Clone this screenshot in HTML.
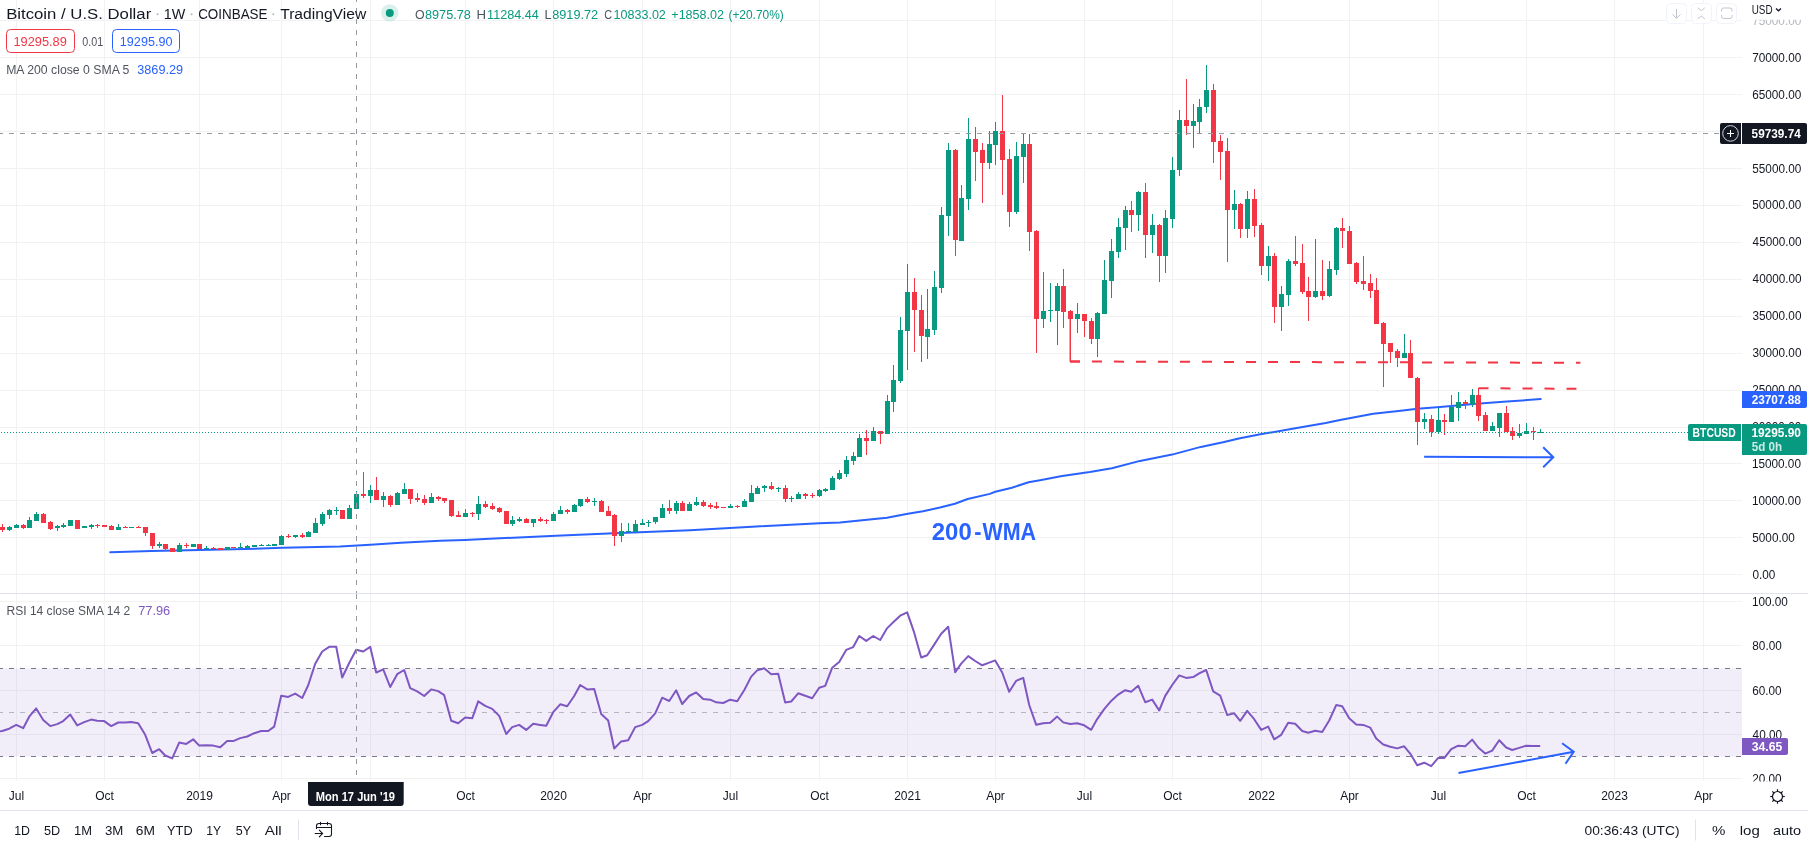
<!DOCTYPE html><html><head><meta charset="utf-8"><title>BTCUSD chart</title><style>
html,body{margin:0;padding:0;background:#fff;width:1808px;height:848px;overflow:hidden}
svg{display:block;will-change:transform}
text{font-family:'Liberation Sans', Arial, sans-serif}
</style></head><body>
<svg width="1808" height="848" viewBox="0 0 1808 848">
<rect width="1808" height="848" fill="#fff"/>
<path d="M0 574.5H1742M0 537.5H1742M0 500.5H1742M0 463.5H1742M0 427.5H1742M0 390.5H1742M0 353.5H1742M0 316.5H1742M0 279.5H1742M0 242.5H1742M0 205.5H1742M0 168.5H1742M0 131.5H1742M0 94.5H1742M0 57.5H1742M0 20.5H1742M0 601.5H1742M0 645.5H1742M0 690.5H1742M0 734.5H1742M0 778.5H1742M16.5 0V593M16.5 594V781M104.5 0V593M104.5 594V781M199.5 0V593M199.5 594V781M281.5 0V593M281.5 594V781M370.5 0V593M370.5 594V781M465.5 0V593M465.5 594V781M553.5 0V593M553.5 594V781M642.5 0V593M642.5 594V781M730.5 0V593M730.5 594V781M819.5 0V593M819.5 594V781M907.5 0V593M907.5 594V781M995.5 0V593M995.5 594V781M1084.5 0V593M1084.5 594V781M1172.5 0V593M1172.5 594V781M1261.5 0V593M1261.5 594V781M1349.5 0V593M1349.5 594V781M1438.5 0V593M1438.5 594V781M1526.5 0V593M1526.5 594V781M1614.5 0V593M1614.5 594V781M1703.5 0V593M1703.5 594V781" stroke="#f2f2f3" stroke-width="1" fill="none"/>
<rect x="0" y="668.5" width="1742" height="88.0" fill="#7e57c2" fill-opacity="0.1"/>
<path d="M0 668.5H1742M0 756.5H1742" stroke="#787b86" stroke-width="1" stroke-dasharray="5 6" stroke-dashoffset="2"/>
<path d="M0 712.5H1742" stroke="#787b86" stroke-opacity="0.5" stroke-width="1" stroke-dasharray="5 6" stroke-dashoffset="2"/>
<path d="M0 593.5H1808M0 810.5H1808" stroke="#e0e3eb" stroke-width="1"/>
<polyline points="110.2,552.2 151.5,551.0 199.5,550.0 245.0,549.0 282.5,547.8 340.0,546.6 370.4,544.8 400.8,542.8 440.0,540.8 464.7,539.9 555.9,535.7 614.0,533.3 690.0,530.3 756.4,526.5 819.4,523.2 840.0,522.4 862.1,520.2 887.0,517.7 906.4,514.1 923.0,511.3 940.0,507.5 954.9,503.7 967.7,499.0 989.8,493.9 995.3,491.8 1011.9,487.7 1028.5,482.2 1040.0,480.2 1062.1,476.0 1089.8,472.1 1111.9,468.3 1140.0,460.9 1172.1,454.6 1200.8,446.9 1223.0,442.2 1240.0,438.2 1261.6,434.1 1295.3,428.3 1325.7,423.0 1340.0,420.1 1373.2,413.8 1400.8,410.8 1417.4,408.8 1440.0,407.1 1476.5,403.7 1506.9,401.6 1540.7,399.0" fill="none" stroke="#2962ff" stroke-width="2" stroke-linejoin="round" stroke-linecap="round"/>
<path d="M9.5 526V531M16.5 524V528M29.5 517V528M36.5 512V521M57.5 525V531M63.5 523V528M70.5 520V526M84.5 526V528M91.5 524V529M118.5 524V530M131.5 527V528M159.5 542V548M179.5 543V552M193.5 544V547M206.5 546V549M227.5 547V550M240.5 543V548M247.5 545V548M254.5 545V547M261.5 544V546M268.5 544V546M274.5 544V546M281.5 535V545M295.5 535V538M308.5 531V537M315.5 518V533M322.5 512V526M329.5 509V519M336.5 507V515M349.5 505V519M356.5 491V509M370.5 485V503M383.5 492V507M397.5 492V505M404.5 483V494M431.5 493V503M465.5 509V517M478.5 496V520M512.5 516V526M519.5 517V522M533.5 519V527M553.5 512V521M560.5 506V514M574.5 504V512M580.5 499V507M594.5 498V506M621.5 523V542M628.5 523V532M635.5 520V532M642.5 519V525M648.5 520V527M655.5 517V524M662.5 504V518M676.5 501V514M689.5 502V511M696.5 497V506M730.5 504V508M744.5 499V507M751.5 485V502M757.5 486V494M764.5 485V492M778.5 487V492M791.5 496V502M798.5 492V499M819.5 489V497M825.5 488V492M832.5 476V490M839.5 470V480M846.5 456V477M853.5 452V465M859.5 434V457M873.5 427V441M887.5 395V434M893.5 365V412M900.5 317V383M907.5 264V370M927.5 289V359M934.5 271V335M941.5 207V293M948.5 143V236M961.5 185V241M968.5 118V210M989.5 131V169M995.5 122V165M1016.5 142V214M1023.5 134V183M1043.5 272V328M1050.5 283V322M1057.5 283V345M1077.5 303V333M1097.5 312V357M1104.5 260V314M1111.5 239V298M1118.5 218V258M1125.5 206V250M1138.5 191V231M1152.5 214V253M1165.5 210V273M1172.5 157V228M1179.5 110V176M1193.5 104V148M1199.5 99V134M1206.5 65V113M1234.5 190V229M1247.5 191V238M1268.5 246V281M1281.5 286V331M1288.5 259V306M1315.5 239V298M1329.5 261V297M1336.5 227V275M1404.5 334V358M1424.5 413V429M1438.5 408V434M1451.5 395V422M1458.5 392V421M1472.5 389V407M1492.5 422V431M1499.5 413V437M1519.5 424V438M1526.5 423V434M1540.5 429V433" stroke="#089981" stroke-width="1" fill="none"/>
<path d="M7 527h5v3h-5zM14 525h5v3h-5zM27 520h5v8h-5zM34 514h5v7h-5zM55 526h5v2h-5zM61 525h5v2h-5zM68 520h5v6h-5zM82 526h5v2h-5zM89 525h5v2h-5zM116 527h5v3h-5zM129 527h5v1h-5zM157 544h5v2h-5zM177 545h5v7h-5zM191 544h5v3h-5zM204 548h5v1h-5zM225 547h5v3h-5zM238 547h5v1h-5zM245 546h5v2h-5zM252 545h5v2h-5zM259 545h5v1h-5zM266 545h5v1h-5zM272 544h5v2h-5zM279 536h5v9h-5zM293 535h5v2h-5zM306 532h5v5h-5zM313 523h5v10h-5zM320 514h5v10h-5zM327 510h5v5h-5zM334 510h5v1h-5zM347 508h5v11h-5zM354 494h5v15h-5zM368 490h5v6h-5zM381 496h5v4h-5zM395 493h5v12h-5zM402 489h5v5h-5zM429 497h5v6h-5zM463 513h5v4h-5zM476 504h5v10h-5zM510 520h5v4h-5zM517 519h5v2h-5zM531 519h5v4h-5zM551 514h5v7h-5zM558 510h5v4h-5zM572 505h5v7h-5zM578 499h5v7h-5zM592 501h5v1h-5zM619 531h5v5h-5zM626 531h5v1h-5zM633 524h5v8h-5zM640 523h5v2h-5zM646 522h5v1h-5zM653 517h5v5h-5zM660 508h5v10h-5zM674 503h5v8h-5zM687 504h5v7h-5zM694 502h5v3h-5zM728 506h5v2h-5zM742 501h5v6h-5zM749 493h5v9h-5zM755 488h5v6h-5zM762 486h5v2h-5zM776 488h5v1h-5zM789 498h5v1h-5zM796 494h5v5h-5zM817 490h5v6h-5zM823 489h5v2h-5zM830 478h5v12h-5zM837 473h5v6h-5zM844 460h5v14h-5zM851 456h5v5h-5zM857 438h5v19h-5zM871 431h5v10h-5zM885 401h5v33h-5zM891 380h5v22h-5zM898 330h5v51h-5zM905 292h5v39h-5zM925 329h5v8h-5zM932 287h5v43h-5zM939 215h5v73h-5zM946 150h5v66h-5zM959 198h5v43h-5zM966 139h5v60h-5zM987 144h5v19h-5zM993 131h5v14h-5zM1014 156h5v56h-5zM1021 144h5v13h-5zM1041 311h5v8h-5zM1048 310h5v1h-5zM1055 286h5v25h-5zM1075 314h5v5h-5zM1095 313h5v26h-5zM1102 280h5v34h-5zM1109 251h5v30h-5zM1116 227h5v25h-5zM1123 210h5v18h-5zM1136 192h5v23h-5zM1150 225h5v10h-5zM1163 218h5v38h-5zM1170 170h5v49h-5zM1177 120h5v50h-5zM1191 121h5v5h-5zM1197 107h5v15h-5zM1204 90h5v17h-5zM1232 204h5v6h-5zM1245 199h5v30h-5zM1266 256h5v10h-5zM1279 294h5v13h-5zM1286 261h5v34h-5zM1313 291h5v6h-5zM1327 269h5v27h-5zM1334 228h5v42h-5zM1402 353h5v5h-5zM1422 419h5v3h-5zM1436 420h5v12h-5zM1449 407h5v15h-5zM1456 402h5v6h-5zM1470 395h5v9h-5zM1490 426h5v5h-5zM1497 413h5v15h-5zM1517 433h5v3h-5zM1524 431h5v3h-5zM1538 432h5v1h-5z" fill="#089981"/>
<path d="M2.5 524V532M23.5 524V529M43.5 513V523M50.5 521V530M77.5 520V529M97.5 524V528M104.5 525V527M111.5 525V530M125.5 526V528M138.5 526V528M145.5 527V536M152.5 533V549M165.5 544V551M172.5 548V552M186.5 543V548M199.5 544V549M213.5 547V549M220.5 548V550M233.5 547V548M288.5 534V538M302.5 533V538M342.5 510V519M363.5 472V498M376.5 477V500M390.5 495V507M410.5 489V504M417.5 493V502M424.5 495V505M438.5 496V501M444.5 498V503M451.5 500V517M458.5 511V517M472.5 512V517M485.5 501V508M492.5 503V510M499.5 507V513M506.5 511V524M526.5 518V523M540.5 517V522M546.5 519V524M567.5 509V514M587.5 497V503M601.5 500V512M608.5 506V516M614.5 514V546M669.5 500V514M682.5 501V511M703.5 500V507M710.5 503V509M716.5 502V509M723.5 507V508M737.5 505V508M771.5 482V490M785.5 485V502M805.5 493V499M812.5 493V498M866.5 430V455M880.5 431V444M914.5 278V352M921.5 295V362M955.5 149V256M975.5 127V181M982.5 143V203M1002.5 95V195M1009.5 149V227M1029.5 134V251M1036.5 230V353M1063.5 269V328M1070.5 310V361M1084.5 314V337M1091.5 318V344M1131.5 201V232M1145.5 183V258M1159.5 224V282M1186.5 79V135M1213.5 84V163M1220.5 135V180M1227.5 138V262M1240.5 203V238M1254.5 189V237M1261.5 223V275M1274.5 253V323M1295.5 236V266M1302.5 244V294M1308.5 277V321M1322.5 260V300M1342.5 218V248M1349.5 226V264M1356.5 262V284M1363.5 256V290M1370.5 274V298M1376.5 278V324M1383.5 322V387M1390.5 343V363M1397.5 349V367M1410.5 340V378M1417.5 377V445M1431.5 415V437M1444.5 414V435M1465.5 400V409M1478.5 388V421M1485.5 412V431M1506.5 406V432M1512.5 427V440M1533.5 427V440" stroke="#f23645" stroke-width="1" fill="none"/>
<path d="M0 527h5v3h-5zM21 525h5v3h-5zM41 514h5v9h-5zM48 522h5v7h-5zM75 520h5v9h-5zM95 525h5v1h-5zM102 525h5v2h-5zM109 526h5v4h-5zM123 527h5v1h-5zM136 527h5v1h-5zM143 527h5v6h-5zM150 533h5v13h-5zM163 544h5v5h-5zM170 548h5v4h-5zM184 545h5v1h-5zM197 544h5v5h-5zM211 548h5v1h-5zM218 548h5v2h-5zM231 547h5v1h-5zM286 536h5v1h-5zM300 535h5v2h-5zM340 510h5v9h-5zM361 494h5v2h-5zM374 490h5v10h-5zM388 496h5v9h-5zM408 489h5v10h-5zM415 498h5v2h-5zM422 499h5v4h-5zM436 497h5v2h-5zM442 498h5v3h-5zM449 500h5v16h-5zM456 515h5v2h-5zM470 513h5v1h-5zM483 504h5v3h-5zM490 506h5v3h-5zM497 508h5v4h-5zM504 511h5v13h-5zM524 519h5v4h-5zM538 519h5v2h-5zM544 520h5v1h-5zM565 510h5v2h-5zM585 499h5v3h-5zM599 501h5v11h-5zM606 511h5v5h-5zM612 515h5v21h-5zM667 508h5v3h-5zM680 503h5v8h-5zM701 502h5v4h-5zM708 505h5v2h-5zM714 506h5v2h-5zM721 507h5v1h-5zM735 506h5v1h-5zM769 486h5v3h-5zM783 488h5v11h-5zM803 494h5v2h-5zM810 495h5v1h-5zM864 438h5v3h-5zM878 431h5v3h-5zM912 292h5v18h-5zM919 310h5v26h-5zM953 150h5v90h-5zM973 139h5v13h-5zM980 150h5v13h-5zM1000 131h5v29h-5zM1007 159h5v53h-5zM1027 144h5v88h-5zM1034 231h5v88h-5zM1061 286h5v26h-5zM1068 311h5v8h-5zM1082 314h5v7h-5zM1089 321h5v18h-5zM1129 210h5v5h-5zM1143 192h5v43h-5zM1157 225h5v31h-5zM1184 120h5v6h-5zM1211 90h5v52h-5zM1218 141h5v11h-5zM1225 151h5v59h-5zM1238 204h5v25h-5zM1252 199h5v27h-5zM1259 225h5v41h-5zM1272 256h5v51h-5zM1293 261h5v3h-5zM1300 263h5v29h-5zM1306 291h5v6h-5zM1320 291h5v5h-5zM1340 228h5v3h-5zM1347 231h5v33h-5zM1354 263h5v19h-5zM1361 281h5v3h-5zM1368 283h5v8h-5zM1374 290h5v34h-5zM1381 323h5v21h-5zM1388 343h5v9h-5zM1395 351h5v7h-5zM1408 353h5v25h-5zM1415 378h5v44h-5zM1429 419h5v13h-5zM1442 420h5v2h-5zM1463 402h5v2h-5zM1476 395h5v21h-5zM1483 415h5v16h-5zM1504 413h5v19h-5zM1510 431h5v5h-5zM1531 431h5v1h-5z" fill="#f23645"/>
<polyline points="-4.80,731.6 2.20,731.0 9.20,728.7 16.20,724.9 23.20,728.2 29.20,716.7 36.20,708.4 43.20,720.0 50.20,726.1 57.20,724.1 63.20,721.1 70.20,714.5 77.20,725.4 84.20,722.1 91.20,719.6 97.20,720.8 104.20,721.1 111.20,726.1 118.20,722.5 125.20,722.5 131.20,722.1 138.20,723.3 145.20,734.8 152.20,753.0 159.20,749.2 165.20,755.5 172.20,758.4 179.20,742.6 186.20,743.9 193.20,739.3 199.20,745.6 206.20,745.2 213.20,745.6 220.20,747.2 227.20,740.9 233.20,741.1 240.20,738.1 247.20,736.5 254.20,733.2 261.20,731.0 268.20,731.0 274.20,726.6 281.20,695.7 288.20,696.9 295.20,693.6 302.20,698.0 308.20,685.3 315.20,663.8 322.20,651.5 329.20,646.8 336.20,646.8 342.20,677.5 349.20,663.0 356.20,649.8 363.20,651.5 370.20,646.8 376.20,672.6 383.20,669.3 390.20,687.0 397.20,674.2 404.20,670.0 410.20,688.1 417.20,691.4 424.20,696.0 431.20,689.4 438.20,691.1 444.20,695.2 451.20,720.8 458.20,723.3 465.20,717.5 472.20,718.3 478.20,701.3 485.20,705.9 492.20,708.9 499.20,715.9 506.20,734.0 512.20,727.1 519.20,724.9 526.20,729.9 533.20,723.8 540.20,724.9 546.20,725.8 553.20,712.2 560.20,704.3 567.20,706.3 574.20,696.0 580.20,685.0 587.20,689.4 594.20,689.1 601.20,713.9 608.20,720.5 614.20,748.5 621.20,741.4 628.20,740.3 635.20,727.1 642.20,724.9 648.20,721.1 655.20,713.4 662.20,697.7 669.20,701.0 676.20,690.3 682.20,704.0 689.20,696.0 696.20,692.4 703.20,699.0 710.20,699.7 716.20,702.3 723.20,703.0 730.20,699.7 737.20,701.3 744.20,690.3 751.20,676.6 757.20,670.4 764.20,668.3 771.20,674.2 778.20,673.8 785.20,702.5 791.20,701.5 798.20,693.3 805.20,695.8 812.20,698.2 819.20,687.8 825.20,685.9 832.20,667.7 839.20,661.9 846.20,649.9 853.20,647.1 859.20,636.0 866.20,640.9 873.20,636.0 880.20,640.0 887.20,628.1 893.20,622.3 900.20,615.7 907.20,612.4 914.20,632.7 921.20,657.5 927.20,655.3 934.20,644.6 941.20,633.8 948.20,626.7 955.20,672.3 961.20,663.6 968.20,656.1 975.20,661.0 982.20,665.3 989.20,662.6 995.20,660.4 1002.20,672.5 1009.20,691.8 1016.20,680.8 1023.20,677.8 1029.20,705.0 1036.20,724.8 1043.20,723.2 1050.20,722.7 1057.20,716.6 1063.20,722.4 1070.20,724.0 1077.20,723.2 1084.20,725.3 1091.20,729.8 1097.20,719.1 1104.20,709.2 1111.20,700.9 1118.20,694.6 1125.20,690.2 1131.20,691.8 1138.20,685.7 1145.20,702.2 1152.20,699.6 1159.20,710.5 1165.20,695.9 1172.20,685.0 1179.20,675.4 1186.20,677.9 1193.20,677.1 1199.20,673.3 1206.20,670.0 1213.20,691.4 1220.20,695.7 1227.20,715.0 1234.20,713.4 1240.20,720.8 1247.20,710.9 1254.20,719.2 1261.20,729.9 1268.20,726.6 1274.20,739.3 1281.20,734.8 1288.20,722.8 1295.20,723.8 1302.20,731.0 1308.20,732.7 1315.20,730.7 1322.20,732.0 1329.20,720.5 1336.20,705.1 1342.20,706.3 1349.20,718.3 1356.20,724.4 1363.20,724.9 1370.20,727.6 1376.20,738.4 1383.20,744.5 1390.20,746.7 1397.20,748.4 1404.20,746.3 1410.20,753.6 1417.20,765.2 1424.20,762.7 1431.20,766.2 1438.20,757.9 1444.20,758.1 1451.20,749.1 1458.20,745.7 1465.20,746.3 1472.20,739.6 1478.20,747.5 1485.20,753.6 1492.20,750.6 1499.20,740.2 1506.20,747.5 1512.20,750.0 1519.20,747.9 1526.20,745.7 1533.20,746.0 1540.20,746.0" fill="none" stroke="#7e57c2" stroke-width="2" stroke-linejoin="round"/>
<path d="M1070 361.5H1080" stroke="#f23645" stroke-width="2"/>
<path d="M1070 319V361.5" stroke="#f23645" stroke-width="1"/>
<path d="M1070 361.5L1580.4 362.8" stroke="#f23645" stroke-width="2" stroke-dasharray="10 12"/>
<path d="M1478.5 395V388.2" stroke="#f23645" stroke-width="1"/>
<path d="M1478.5 388.2L1576.4 388.8" stroke="#f23645" stroke-width="2" stroke-dasharray="10 12"/>
<path d="M1424.1 456.7L1553.3 457.3M1543.2 447.2L1553.3 457.3L1543.2 467.3" stroke="#2962ff" stroke-width="2" fill="none"/>
<path d="M1458.5 773.1L1573.7 751.8M1562.1 743.3L1573.7 751.8L1565.5 763.7" stroke="#2962ff" stroke-width="2" fill="none"/>
<text x="931.77" y="539.6" font-size="23" fill="#2962ff" font-weight="bold" textLength="39.95" lengthAdjust="spacingAndGlyphs" >200</text>
<text x="974.35" y="539.6" font-size="23" fill="#2962ff" font-weight="bold" textLength="7.27" lengthAdjust="spacingAndGlyphs" >-</text>
<text x="982.40" y="539.6" font-size="23" fill="#2962ff" font-weight="bold" textLength="53.64" lengthAdjust="spacingAndGlyphs" >WMA</text>
<path d="M0 432.5H1688" stroke="#089981" stroke-width="1" stroke-dasharray="1 2" stroke-dashoffset="2"/>
<path d="M0 133.5H1719" stroke="#9598a1" stroke-width="1" stroke-dasharray="5 6" stroke-dashoffset="2"/>
<path d="M356.5 0V593" stroke="#9598a1" stroke-width="1" stroke-dasharray="5 6" stroke-dashoffset="3"/>
<path d="M356.5 594V781" stroke="#9598a1" stroke-width="1" stroke-dasharray="5 6"/>
<text x="6.19" y="19.0" font-size="14" fill="#131722" textLength="145.02" lengthAdjust="spacingAndGlyphs" >Bitcoin / U.S. Dollar</text>
<text x="163.78" y="19.0" font-size="14" fill="#131722" textLength="21.52" lengthAdjust="spacingAndGlyphs" >1W</text>
<text x="198.13" y="19.0" font-size="14" fill="#131722" textLength="69.40" lengthAdjust="spacingAndGlyphs" >COINBASE</text>
<text x="280.16" y="19.0" font-size="14" fill="#131722" textLength="86.07" lengthAdjust="spacingAndGlyphs" >TradingView</text>
<circle cx="157.6" cy="14.3" r="1" fill="#b2b5be"/>
<circle cx="191.6" cy="14.3" r="1" fill="#b2b5be"/>
<circle cx="273.3" cy="14.3" r="1" fill="#b2b5be"/>
<circle cx="389.8" cy="12.9" r="8.7" fill="#089981" fill-opacity="0.15"/>
<circle cx="389.8" cy="12.9" r="4" fill="#089981"/>
<text x="414.91" y="19.1" font-size="12.5" fill="#50535e" textLength="9.61" lengthAdjust="spacingAndGlyphs" >O</text>
<text x="424.99" y="19.1" font-size="12.5" fill="#089981" textLength="45.90" lengthAdjust="spacingAndGlyphs" >8975.78</text>
<text x="476.44" y="19.1" font-size="12.5" fill="#50535e" textLength="9.54" lengthAdjust="spacingAndGlyphs" >H</text>
<text x="487.09" y="19.1" font-size="12.5" fill="#089981" textLength="51.82" lengthAdjust="spacingAndGlyphs" >11284.44</text>
<text x="544.48" y="19.1" font-size="12.5" fill="#50535e" textLength="7.08" lengthAdjust="spacingAndGlyphs" >L</text>
<text x="552.19" y="19.1" font-size="12.5" fill="#089981" textLength="46.00" lengthAdjust="spacingAndGlyphs" >8919.72</text>
<text x="604.18" y="19.1" font-size="12.5" fill="#50535e" textLength="7.88" lengthAdjust="spacingAndGlyphs" >C</text>
<text x="613.50" y="19.1" font-size="12.5" fill="#089981" textLength="52.34" lengthAdjust="spacingAndGlyphs" >10833.02</text>
<text x="671.30" y="19.1" font-size="12.5" fill="#089981" textLength="52.69" lengthAdjust="spacingAndGlyphs" >+1858.02</text>
<text x="728.43" y="19.1" font-size="12.5" fill="#089981" textLength="55.35" lengthAdjust="spacingAndGlyphs" >(+20.70%)</text>
<rect x="6.5" y="29.5" width="68" height="23" rx="4" fill="#fff" stroke="#f23645"/>
<text x="13.44" y="45.6" font-size="12" fill="#f23645" textLength="53.34" lengthAdjust="spacingAndGlyphs" >19295.89</text>
<text x="82.34" y="45.6" font-size="12" fill="#50535e" textLength="20.85" lengthAdjust="spacingAndGlyphs" >0.01</text>
<rect x="112.5" y="29.5" width="67" height="23" rx="4" fill="#fff" stroke="#2962ff"/>
<text x="119.85" y="45.6" font-size="12" fill="#2962ff" textLength="52.62" lengthAdjust="spacingAndGlyphs" >19295.90</text>
<text x="6.18" y="73.6" font-size="12" fill="#50535e" textLength="123.16" lengthAdjust="spacingAndGlyphs" >MA 200 close 0 SMA 5</text>
<text x="137.28" y="73.6" font-size="12" fill="#2962ff" textLength="45.83" lengthAdjust="spacingAndGlyphs" >3869.29</text>
<text x="6.50" y="614.8" font-size="12" fill="#50535e" textLength="123.70" lengthAdjust="spacingAndGlyphs" >RSI 14 close SMA 14 2</text>
<text x="138.16" y="614.8" font-size="12" fill="#7e57c2" textLength="32.10" lengthAdjust="spacingAndGlyphs" >77.96</text>
<text x="1752.41" y="579.0" font-size="12" fill="#131722" textLength="22.89" lengthAdjust="spacingAndGlyphs">0.00</text>
<text x="1752.31" y="542.0" font-size="12" fill="#131722" textLength="42.51" lengthAdjust="spacingAndGlyphs">5000.00</text>
<text x="1751.92" y="505.0" font-size="12" fill="#131722" textLength="49.05" lengthAdjust="spacingAndGlyphs">10000.00</text>
<text x="1751.92" y="468.0" font-size="12" fill="#131722" textLength="49.05" lengthAdjust="spacingAndGlyphs">15000.00</text>
<text x="1752.21" y="431.0" font-size="12" fill="#131722" textLength="49.05" lengthAdjust="spacingAndGlyphs">20000.00</text>
<text x="1752.21" y="394.0" font-size="12" fill="#131722" textLength="49.05" lengthAdjust="spacingAndGlyphs">25000.00</text>
<text x="1752.41" y="357.0" font-size="12" fill="#131722" textLength="49.05" lengthAdjust="spacingAndGlyphs">30000.00</text>
<text x="1752.41" y="320.0" font-size="12" fill="#131722" textLength="49.05" lengthAdjust="spacingAndGlyphs">35000.00</text>
<text x="1752.60" y="283.0" font-size="12" fill="#131722" textLength="49.05" lengthAdjust="spacingAndGlyphs">40000.00</text>
<text x="1752.60" y="246.0" font-size="12" fill="#131722" textLength="49.05" lengthAdjust="spacingAndGlyphs">45000.00</text>
<text x="1752.31" y="209.0" font-size="12" fill="#131722" textLength="49.05" lengthAdjust="spacingAndGlyphs">50000.00</text>
<text x="1752.31" y="173.0" font-size="12" fill="#131722" textLength="49.05" lengthAdjust="spacingAndGlyphs">55000.00</text>
<text x="1752.21" y="136.0" font-size="12" fill="#131722" textLength="49.05" lengthAdjust="spacingAndGlyphs">60000.00</text>
<text x="1752.21" y="99.0" font-size="12" fill="#131722" textLength="49.05" lengthAdjust="spacingAndGlyphs">65000.00</text>
<text x="1752.21" y="62.0" font-size="12" fill="#131722" textLength="49.05" lengthAdjust="spacingAndGlyphs">70000.00</text>
<clipPath id="c75"><rect x="1743" y="19.5" width="65" height="10"/></clipPath>
<g clip-path="url(#c75)">
<text x="1752.21" y="25.0" font-size="12" fill="#b2b5be" textLength="49.05" lengthAdjust="spacingAndGlyphs">75000.00</text>
</g>
<clipPath id="crsi"><rect x="1743" y="594" width="65" height="187.5"/></clipPath><g clip-path="url(#crsi)">
<text x="1751.92" y="605.8" font-size="12" fill="#131722" textLength="35.97" lengthAdjust="spacingAndGlyphs">100.00</text>
<text x="1752.31" y="649.8" font-size="12" fill="#131722" textLength="29.43" lengthAdjust="spacingAndGlyphs">80.00</text>
<text x="1752.21" y="694.8" font-size="12" fill="#131722" textLength="29.43" lengthAdjust="spacingAndGlyphs">60.00</text>
<text x="1752.60" y="738.8" font-size="12" fill="#131722" textLength="29.43" lengthAdjust="spacingAndGlyphs">40.00</text>
<text x="1752.21" y="782.8" font-size="12" fill="#131722" textLength="29.43" lengthAdjust="spacingAndGlyphs">20.00</text>
</g>
<path d="M1722 123h19v21h-19a2 2 0 0 1-2-2v-17a2 2 0 0 1 2-2z" fill="#131722"/>
<circle cx="1730.5" cy="133.4" r="7.8" fill="none" stroke="#d1d4dc" stroke-width="1"/>
<path d="M1727 133.5h7M1730.5 130v7" stroke="#fff" stroke-width="1"/>
<path d="M1742 123h63a2 2 0 0 1 2 2v17a2 2 0 0 1-2 2h-63z" fill="#131722"/>
<text x="1751.61" y="137.8" font-size="12" fill="#fff" font-weight="bold" textLength="49.14" lengthAdjust="spacingAndGlyphs" >59739.74</text>
<path d="M1742 391h63a2 2 0 0 1 2 2v13a2 2 0 0 1-2 2h-63z" fill="#2962ff"/>
<text x="1751.71" y="403.8" font-size="12" fill="#fff" font-weight="bold" textLength="49.13" lengthAdjust="spacingAndGlyphs" >23707.88</text>
<path d="M1690 424h51v17h-51a2 2 0 0 1-2-2v-13a2 2 0 0 1 2-2z" fill="#089981"/>
<text x="1692.61" y="436.8" font-size="12" fill="#fff" font-weight="bold" textLength="43.12" lengthAdjust="spacingAndGlyphs" >BTCUSD</text>
<path d="M1742 424h63a2 2 0 0 1 2 2v27a2 2 0 0 1-2 2h-63z" fill="#089981"/>
<text x="1751.41" y="436.8" font-size="12" fill="#fff" font-weight="bold" textLength="49.54" lengthAdjust="spacingAndGlyphs" >19295.90</text>
<text x="1751.71" y="450.9" font-size="12" fill="#fff" font-weight="bold" textLength="30.30" lengthAdjust="spacingAndGlyphs" fill-opacity="0.8">5d 0h</text>
<path d="M1742 738h44a2 2 0 0 1 2 2v13a2 2 0 0 1-2 2h-44z" fill="#7e57c2"/>
<text x="1751.69" y="750.9" font-size="12" fill="#fff" font-weight="bold" textLength="30.54" lengthAdjust="spacingAndGlyphs" >34.65</text>
<rect x="1743" y="0" width="65" height="19.5" fill="#fff"/>
<text x="1751.76" y="13.5" font-size="12" fill="#131722" textLength="20.78" lengthAdjust="spacingAndGlyphs" >USD</text>
<path d="M1776 8.5l2.5 2.3 2.5-2.3" stroke="#131722" stroke-width="1.3" fill="none"/>
<rect x="1666.5" y="3.5" width="20" height="20" rx="4" fill="#fff" fill-opacity="0.8" stroke="#f0f3fa"/>
<rect x="1691.5" y="3.5" width="20" height="20" rx="4" fill="#fff" fill-opacity="0.8" stroke="#f0f3fa"/>
<rect x="1716.5" y="3.5" width="20" height="20" rx="4" fill="#fff" fill-opacity="0.8" stroke="#f0f3fa"/>
<path d="M1676.5 9v9M1672.5 14.5l4 3.7 4-3.7" stroke="#c1c4cd" stroke-width="1" fill="none"/>
<path d="M1697.8 7.8l3.5 2.8 3.5-2.8M1697.8 18.8l3.5-2.8 3.5 2.8" stroke="#c1c4cd" stroke-width="1" fill="none"/>
<path d="M1721.5 11.5v-1.5a2 2 0 0 1 2-2h6.5a2 2 0 0 1 2 2v1.5M1721.5 15v1.5a2 2 0 0 0 2 2h6.5a2 2 0 0 0 2-2v-1.5" stroke="#c1c4cd" stroke-width="1" fill="none"/>
<text x="16.5" y="800" font-size="12" fill="#131722" text-anchor="middle">Jul</text>
<text x="104.5" y="800" font-size="12" fill="#131722" text-anchor="middle">Oct</text>
<text x="199.5" y="800" font-size="12" fill="#131722" text-anchor="middle">2019</text>
<text x="281.5" y="800" font-size="12" fill="#131722" text-anchor="middle">Apr</text>
<text x="465.5" y="800" font-size="12" fill="#131722" text-anchor="middle">Oct</text>
<text x="553.5" y="800" font-size="12" fill="#131722" text-anchor="middle">2020</text>
<text x="642.5" y="800" font-size="12" fill="#131722" text-anchor="middle">Apr</text>
<text x="730.5" y="800" font-size="12" fill="#131722" text-anchor="middle">Jul</text>
<text x="819.5" y="800" font-size="12" fill="#131722" text-anchor="middle">Oct</text>
<text x="907.5" y="800" font-size="12" fill="#131722" text-anchor="middle">2021</text>
<text x="995.5" y="800" font-size="12" fill="#131722" text-anchor="middle">Apr</text>
<text x="1084.5" y="800" font-size="12" fill="#131722" text-anchor="middle">Jul</text>
<text x="1172.5" y="800" font-size="12" fill="#131722" text-anchor="middle">Oct</text>
<text x="1261.5" y="800" font-size="12" fill="#131722" text-anchor="middle">2022</text>
<text x="1349.5" y="800" font-size="12" fill="#131722" text-anchor="middle">Apr</text>
<text x="1438.5" y="800" font-size="12" fill="#131722" text-anchor="middle">Jul</text>
<text x="1526.5" y="800" font-size="12" fill="#131722" text-anchor="middle">Oct</text>
<text x="1614.5" y="800" font-size="12" fill="#131722" text-anchor="middle">2023</text>
<text x="1703.5" y="800" font-size="12" fill="#131722" text-anchor="middle">Apr</text>
<path d="M308 782h95.7v21a3 3 0 0 1-3 3h-89.7a3 3 0 0 1-3-3z" fill="#131722"/>
<text x="315.76" y="801.3" font-size="12" fill="#fff" font-weight="bold" textLength="79.26" lengthAdjust="spacingAndGlyphs" >Mon 17 Jun &#39;19</text>
<g transform="translate(1777.5 796.5)" stroke="#131722" stroke-width="1.2" fill="none"><circle r="5"/>
<path d="M5.00 0.00L7.30 0.00"/>
<path d="M3.54 3.54L5.16 5.16"/>
<path d="M0.00 5.00L0.00 7.30"/>
<path d="M-3.54 3.54L-5.16 5.16"/>
<path d="M-5.00 0.00L-7.30 0.00"/>
<path d="M-3.54 -3.54L-5.16 -5.16"/>
<path d="M-0.00 -5.00L-0.00 -7.30"/>
<path d="M3.54 -3.54L5.16 -5.16"/>
</g>
<text x="14.15" y="835.3" font-size="13" fill="#131722" textLength="15.84" lengthAdjust="spacingAndGlyphs" >1D</text>
<text x="44.01" y="835.3" font-size="13" fill="#131722" textLength="16.19" lengthAdjust="spacingAndGlyphs" >5D</text>
<text x="74.11" y="835.3" font-size="13" fill="#131722" textLength="17.95" lengthAdjust="spacingAndGlyphs" >1M</text>
<text x="104.99" y="835.3" font-size="13" fill="#131722" textLength="18.39" lengthAdjust="spacingAndGlyphs" >3M</text>
<text x="135.86" y="835.3" font-size="13" fill="#131722" textLength="19.16" lengthAdjust="spacingAndGlyphs" >6M</text>
<text x="167.11" y="835.3" font-size="13" fill="#131722" textLength="25.48" lengthAdjust="spacingAndGlyphs" >YTD</text>
<text x="206.17" y="835.3" font-size="13" fill="#131722" textLength="14.81" lengthAdjust="spacingAndGlyphs" >1Y</text>
<text x="235.72" y="835.3" font-size="13" fill="#131722" textLength="15.27" lengthAdjust="spacingAndGlyphs" >5Y</text>
<text x="264.80" y="835.3" font-size="13" fill="#131722" textLength="16.89" lengthAdjust="spacingAndGlyphs" >All</text>
<path d="M298.5 819.5V840.5M1695.5 819.5V840.5" stroke="#e0e3eb" stroke-width="1"/>
<g stroke="#131722" stroke-width="1.1" fill="none" stroke-linecap="round"><path d="M316.5 828.6V826Q316.5 823.5 319 823.5H329Q331.5 823.5 331.5 826V834Q331.5 836.5 329 836.5H324.5"/><path d="M316.5 827.5H331.5M320.5 822.3V824.8M327.5 822.3V824.8M315.2 833.5H322.4M319.3 830.2L322.6 833.5L319.3 836.8"/></g>
<text x="1584.47" y="835.4" font-size="13" fill="#131722" textLength="95.07" lengthAdjust="spacingAndGlyphs" >00:36:43 (UTC)</text>
<text x="1712.14" y="835.4" font-size="13" fill="#131722" textLength="13.40" lengthAdjust="spacingAndGlyphs" >%</text>
<text x="1739.76" y="835.4" font-size="13" fill="#131722" textLength="20.02" lengthAdjust="spacingAndGlyphs" >log</text>
<text x="1772.94" y="835.4" font-size="13" fill="#131722" textLength="28.22" lengthAdjust="spacingAndGlyphs" >auto</text>
</svg></body></html>
